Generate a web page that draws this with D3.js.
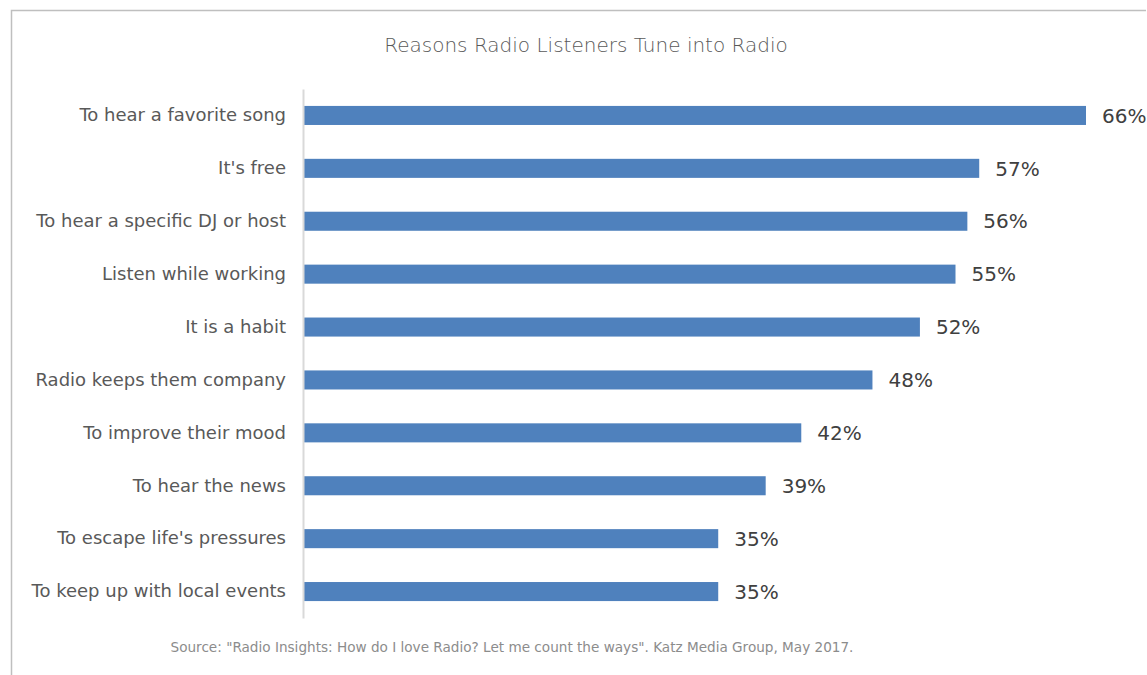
<!DOCTYPE html>
<html>
<head>
<meta charset="utf-8">
<script src="https://cdn.jsdelivr.net/npm/d3@7"></script>
<style>
  body { margin: 0; background: #fff; }
  svg { display: block; font-family: "DejaVu Sans", sans-serif; }
</style>
</head>
<body>
<svg id="chart"></svg>
<script>
// Data
const categories = [
    "To hear a favorite song",
    "It's free",
    "To hear a specific DJ or host",
    "Listen while working",
    "It is a habit",
    "Radio keeps them company",
    "To improve their mood",
    "To hear the news",
    "To escape life's pressures",
    "To keep up with local events"
];
const values = [66, 57, 56, 55, 52, 48, 42, 39, 35, 35];

const titleText = "Reasons Radio Listeners Tune into Radio";
const sourceText = "Source: \"Radio Insights: How do I love Radio? Let me count the ways\". Katz Media Group, May 2017.";

// Dimensions
const width = 1147;
const height = 675;
const margin = {top: 89, right: 61, bottom: 57, left: 303};

const svg = d3.select("#chart")
    .attr("width", width)
    .attr("height", height);

// Frame (partly cropped in the original)
svg.append("path")
    .attr("d", `M11.5,${height} V10.5 H1146`)
    .attr("fill", "none")
    .attr("stroke", "#bfbfbf")
    .attr("stroke-width", 1.5);

// Cropped text descender above the frame
svg.append("text")
    .attr("x", 354)
    .attr("y", -6)
    .attr("font-size", 30)
    .attr("fill", "#222")
    .text("g");

// Scales
const x = d3.scaleLinear()
    .domain([0, 66])
    .range([margin.left, 1086]);

const y = d3.scaleBand()
    .domain(categories)
    .range([margin.top, height - margin.bottom])
    .paddingInner(0.64)
    .paddingOuter(0.32);

// Title
svg.append("text")
    .attr("x", 586)
    .attr("y", 52)
    .attr("text-anchor", "middle")
    .attr("font-size", 20)
    .attr("font-weight", 300)
    .attr("fill", "#595959")
    .text(titleText);

// Bars
svg.selectAll("rect.bar")
    .data(values)
    .join("rect")
    .attr("class", "bar")
    .attr("x", x(0))
    .attr("y", (d, i) => y(categories[i]))
    .attr("width", d => x(d) - x(0))
    .attr("height", y.bandwidth())
    .attr("fill", "#4f81bd");

// Value labels
svg.selectAll("text.value")
    .data(values)
    .join("text")
    .attr("class", "value")
    .attr("x", d => x(d) + 16)
    .attr("y", (d, i) => y(categories[i]) + y.bandwidth() / 2)
    .attr("dy", "0.36em")
    .attr("font-size", 20)
    .attr("fill", "#404040")
    .text(d => d + "%");

// Category axis
const yAxis = svg.append("g")
    .attr("transform", `translate(${margin.left},0)`)
    .call(d3.axisLeft(y).tickSize(0).tickPadding(17));

yAxis.select(".domain")
    .attr("stroke", "#d9d9d9")
    .attr("stroke-width", 2);

yAxis.selectAll("text")
    .attr("font-size", 18)
    .attr("font-family", "'DejaVu Sans', sans-serif")
    .attr("fill", "#595959");

// Source note
svg.append("text")
    .attr("x", 512)
    .attr("y", 652)
    .attr("text-anchor", "middle")
    .attr("font-size", 13.6)
    .attr("fill", "#8c8c8c")
    .text(sourceText);
</script>
</body>
</html>
